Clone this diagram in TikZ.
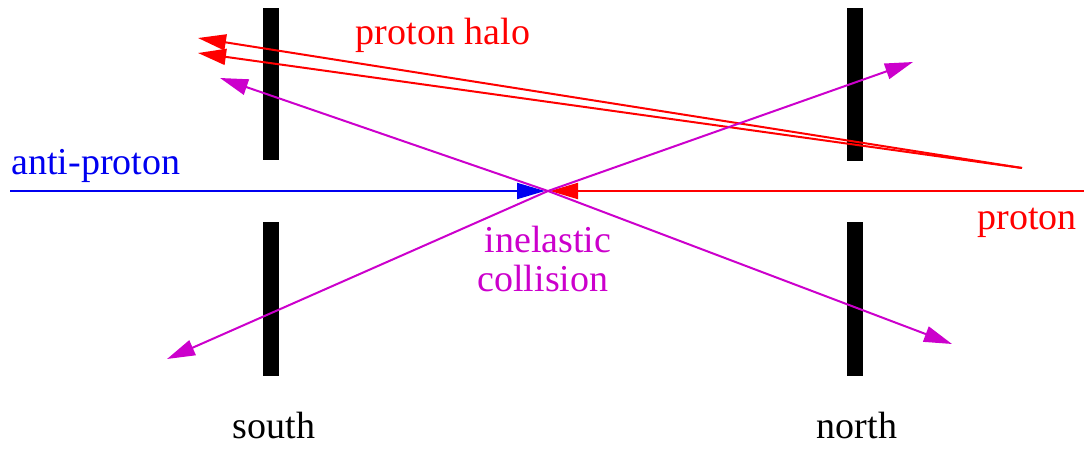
\documentclass[tikz,border=0pt]{standalone}
\usepackage{fontspec}
\setmainfont{Liberation Serif}
\usetikzlibrary{arrows.meta}
\definecolor{halored}{HTML}{FF0000}
\definecolor{beamblue}{HTML}{0000F0}
\definecolor{hitmagenta}{HTML}{CC00CC}
\tikzset{
  tag/.style={font=\fontsize{19}{23}\selectfont,inner sep=0pt,anchor=base},
  track/.style={-{Triangle[length=14pt,width=8pt]},line width=1pt},
  bar/.style={fill=black}
}

\begin{document}
\begin{tikzpicture}[x=0.5pt,y=-0.5pt]
  \useasboundingbox (0,0) rectangle (1084,449);
  % detector planes
  \fill[bar] (263,8) rectangle (279,160);
  \fill[bar] (263,222) rectangle (279,376);
  \fill[bar] (847,8) rectangle (863,161);
  \fill[bar] (847,222) rectangle (863,376);

  \coordinate (hit) at (548,191);
  \coordinate (hitw) at (545,191);
  \coordinate (hite) at (550,191);
  \coordinate (pbarin) at (10,191);
  \coordinate (pin) at (1084,191);
  \draw[track,beamblue] (pbarin) -- (hitw);
  \draw[track,halored] (pin) -- (hite);

  % halo
  \coordinate (halosrc) at (1022,168);
  \coordinate (haloa) at (198,38);
  \coordinate (halob) at (198,53);
  \draw[track,halored] (halosrc) -- (haloa);
  \draw[track,halored] (halosrc) -- (halob);

  % secondaries
  \coordinate (outnw) at (220,78);
  \coordinate (outne) at (913,62);
  \coordinate (outsw) at (167,359);
  \coordinate (outse) at (952,344);
  \foreach \out in {outnw,outne,outsw,outse}
    \draw[track,hitmagenta] (hit) -- (\out);

  \node[tag,halored] (halolbl) at (443,45) {proton halo};
  \node[tag,beamblue,anchor=base west] (pbarlbl) at (11,175) {anti-proton};
  \node[tag,halored,anchor=base west] (plbl) at (977,230) {proton};
  \node[tag,hitmagenta] (hitlbla) at (548,253) {inelastic};
  \node[tag,hitmagenta] (hitlblb) at (543,292) {collision};
  \node[tag] (southlbl) at (274,438) {south};
  \node[tag] (northlbl) at (857,438) {north};
\end{tikzpicture}
\end{document}
